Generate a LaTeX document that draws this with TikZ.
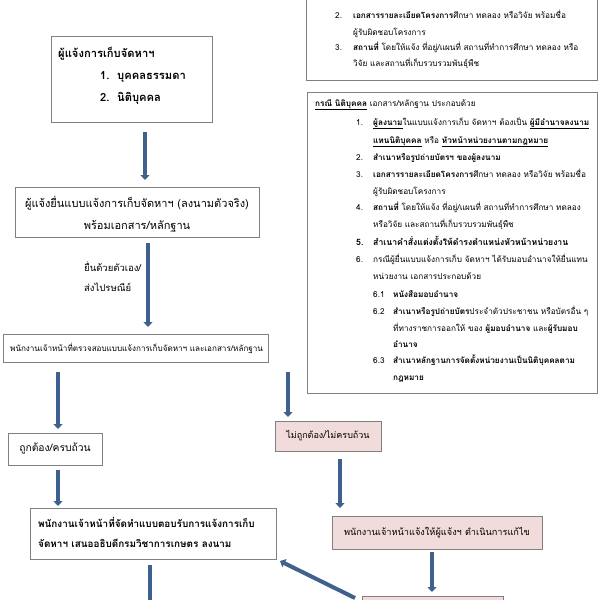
\documentclass[tikz,border=0pt]{standalone}
\usepackage{fontspec}
\newfontfamily\thf[Script=Thai]{Loma}
\usetikzlibrary{arrows.meta}
\definecolor{arrowblue}{RGB}{62,97,142}
\definecolor{pinkfill}{RGB}{242,220,219}
\definecolor{boxline}{RGB}{128,128,128}
\tikzset{
 box/.style={draw=boxline, line width=0.8pt, fill=white, inner sep=0pt},
 pbox/.style={box, fill=pinkfill},
 flow/.style={draw=arrowblue, line width=4pt, -{Triangle[width=9pt,length=5pt]}},
 txt/.style={anchor=base west, inner sep=0pt, font=\thf\fontsize{8.2}{10}\selectfont},
 bigt/.style={txt, font=\thf\bfseries\fontsize{11.2}{13}\selectfont},
 mid/.style={inner sep=0pt, font=\thf\fontsize{11}{13}\selectfont},
}
\begin{document}
\begin{tikzpicture}[x=1pt,y=-1pt]
\useasboundingbox (0,0) rectangle (600,600);
\clip (0,0) rectangle (600,600);
% top right box (cut at top)
\node[box, minimum width=291pt, minimum height=100pt] (topbox) at (451.5,30) {};
\node[txt] (tb2n) at (335,18) {2.};
\node[txt] (tb2) at (353,18) {{\bfseries เอกสารรายละเอียดโครงการ}ศึกษา ทดลอง หรือวิจัย พร้อมชื่อ};
\node[txt] (tb2b) at (353,35) {ผู้รับผิดชอบโครงการ};
\node[txt] (tb3n) at (335,50) {3.};
\node[txt] (tb3) at (353,50) {{\bfseries สถานที่} โดยให้แจ้ง ที่อยู่/แผนที่ สถานที่ทำการศึกษา ทดลอง หรือ};
\node[txt] (tb3b) at (353,66) {วิจัย และสถานที่เก็บรวบรวมพันธุ์พืช};
% big right box
\node[box, minimum width=290pt, minimum height=301pt] (bigbox) at (452,242.5) {};
\node[txt] (b0) at (315,106) {\underline{\bfseries กรณี นิติบุคคล} เอกสาร/หลักฐาน ประกอบด้วย};
\node[txt] (b1n) at (356,125) {1.};
\node[txt] (b1) at (373,125) {\underline{\bfseries ผู้ลงนาม}ในแบบแจ้งการเก็บ จัดหาฯ ต้องเป็น \underline{\bfseries ผู้มีอำนาจลงนาม}};
\node[txt] (b1b) at (373,143) {\underline{\bfseries แทนนิติบุคคล} หรือ \underline{\bfseries หัวหน้าหน่วยงานตามกฎหมาย}};
\node[txt] (b2n) at (356,160) {2.};
\node[txt] (b2) at (373,160) {\bfseries สำเนาหรือรูปถ่ายบัตรฯ ของผู้ลงนาม};
\node[txt] (b3n) at (356,177) {3.};
\node[txt] (b3) at (373,177) {{\bfseries เอกสารรายละเอียดโครงการ}ศึกษา ทดลอง หรือวิจัย พร้อมชื่อ};
\node[txt] (b3b) at (373,194) {ผู้รับผิดชอบโครงการ};
\node[txt] (b4n) at (356,210) {4.};
\node[txt] (b4) at (373,210) {{\bfseries สถานที่} โดยให้แจ้ง ที่อยู่/แผนที่ สถานที่ทำการศึกษา ทดลอง};
\node[txt] (b4b) at (373,227) {หรือวิจัย และสถานที่เก็บรวบรวมพันธุ์พืช};
\node[txt, font=\thf\bfseries\fontsize{8.7}{10}\selectfont] (b5n) at (356,245) {5.};
\node[txt, font=\thf\bfseries\fontsize{8.7}{10}\selectfont] (b5) at (373,245) {สำเนาคำสั่งแต่งตั้งให้ดำรงตำแหน่งหัวหน้าหน่วยงาน};
\node[txt] (b6n) at (356,262) {6.};
\node[txt] (b6) at (373,262) {กรณีผู้ยื่นแบบแจ้งการเก็บ จัดหาฯ ได้รับมอบอำนาจให้ยื่นแทน};
\node[txt] (b6b) at (373,279) {หน่วยงาน เอกสารประกอบด้วย};
\node[txt] (b61n) at (373,297) {6.1};
\node[txt] (b61) at (393,297) {\bfseries หนังสือมอบอำนาจ};
\node[txt] (b62n) at (373,314) {6.2};
\node[txt] (b62) at (393,314) {{\bfseries สำเนาหรือรูปถ่ายบัตร}ประจำตัวประชาชน หรือบัตรอื่น ๆ};
\node[txt] (b62b) at (393,331) {ที่ทางราชการออกให้ ของ {\bfseries ผู้มอบอำนาจ} และ{\bfseries ผู้รับมอบ}};
\node[txt] (b62c) at (393,347) {\bfseries อำนาจ};
\node[txt] (b63n) at (373,363) {6.3};
\node[txt] (b63) at (393,363) {\bfseries สำเนาหลักฐานการจัดตั้งหน่วยงานเป็นนิติบุคคลตาม};
\node[txt] (b63b) at (393,380) {\bfseries กฎหมาย};
% box 1
\node[box, minimum width=161pt, minimum height=86pt] (reporter) at (131.5,79) {};
\node[bigt] (r0) at (58,57) {ผู้แจ้งการเก็บจัดหาฯ};
\node[bigt] (r1n) at (100,79) {1.};
\node[bigt] (r1) at (117,79) {บุคคลธรรมดา};
\node[bigt] (r2n) at (100,101) {2.};
\node[bigt] (r2) at (117,101) {นิติบุคคล};
% box 2
\node[box, minimum width=244pt, minimum height=50pt] (submit) at (137,212) {};
\node[mid, align=center, font=\thf\fontsize{11}{22}\selectfont] (submitt) at (137,214) {ผู้แจ้งยื่นแบบแจ้งการเก็บจัดหาฯ (ลงนามตัวจริง)\\พร้อมเอกสาร/หลักฐาน};
% label
\node[txt, font=\thf\fontsize{9.5}{11}\selectfont] (via1) at (84,271) {ยื่นด้วยตัวเอง/};
\node[txt, font=\thf\fontsize{9.5}{11}\selectfont] (via2) at (84,291) {ส่งไปรษณีย์};
% box 3
\node[box, minimum width=265pt, minimum height=28pt] (check) at (135.5,348) {};
\node[txt, font=\thf\fontsize{8.1}{9}\selectfont] (checkt) at (10,351) {พนักงานเจ้าหน้าที่ตรวจสอบแบบแจ้งการเก็บจัดหาฯ และเอกสาร/หลักฐาน};
% ok / not ok
\node[box, minimum width=94pt, minimum height=32pt, font=\thf\fontsize{10.3}{12}\selectfont] (ok) at (55,449) {ถูกต้อง/ครบถ้วน};
\node[pbox, minimum width=106pt, minimum height=30pt, font=\thf\fontsize{9}{10}\selectfont] (notok) at (328,436) {ไม่ถูกต้อง/ไม่ครบถ้วน};
\node[pbox, minimum width=210pt, minimum height=33pt, font=\thf\fontsize{9.2}{10}\selectfont] (fix) at (437,532.5) {พนักงานเจ้าหน้าแจ้งให้ผู้แจ้งฯ ดำเนินการแก้ไข};
\node[pbox, minimum width=141pt, minimum height=44pt] (last) at (432.5,618) {};
% response box
\node[box, minimum width=246pt, minimum height=51pt] (resp) at (153,533.5) {};
\node[txt, font=\thf\bfseries\fontsize{9.9}{11}\selectfont] (resp1) at (38,527) {พนักงานเจ้าหน้าที่จัดทำแบบตอบรับการแจ้งการเก็บ};
\node[txt, font=\thf\bfseries\fontsize{9.9}{11}\selectfont] (resp2) at (38,547) {จัดหาฯ เสนออธิบดีกรมวิชาการเกษตร ลงนาม};
% arrow coordinates
\coordinate (a1s) at (145,132); \coordinate (a1e) at (145,180);
\coordinate (a2s) at (148,243); \coordinate (a2e) at (148,327);
\coordinate (a3s) at (58,372);  \coordinate (a3e) at (58,429);
\coordinate (a4s) at (288,372); \coordinate (a4e) at (288,417);
\coordinate (a5s) at (58,470);  \coordinate (a5e) at (58,506);
\coordinate (a6s) at (340,459); \coordinate (a6e) at (340,508);
\coordinate (a7s) at (432,552); \coordinate (a7e) at (432,592);
\coordinate (a8s) at (355,598); \coordinate (a8e) at (280,561);
\coordinate (a9s) at (150,565); \coordinate (a9e) at (150,640);
\draw[flow] (a1s) -- (a1e);
\draw[flow] (a2s) -- (a2e);
\draw[flow] (a3s) -- (a3e);
\draw[flow] (a4s) -- (a4e);
\draw[flow] (a5s) -- (a5e);
\draw[flow] (a6s) -- (a6e);
\draw[flow] (a7s) -- (a7e);
\draw[flow] (a8s) -- (a8e);
\draw[flow] (a9s) -- (a9e);
\end{tikzpicture}
\end{document}
